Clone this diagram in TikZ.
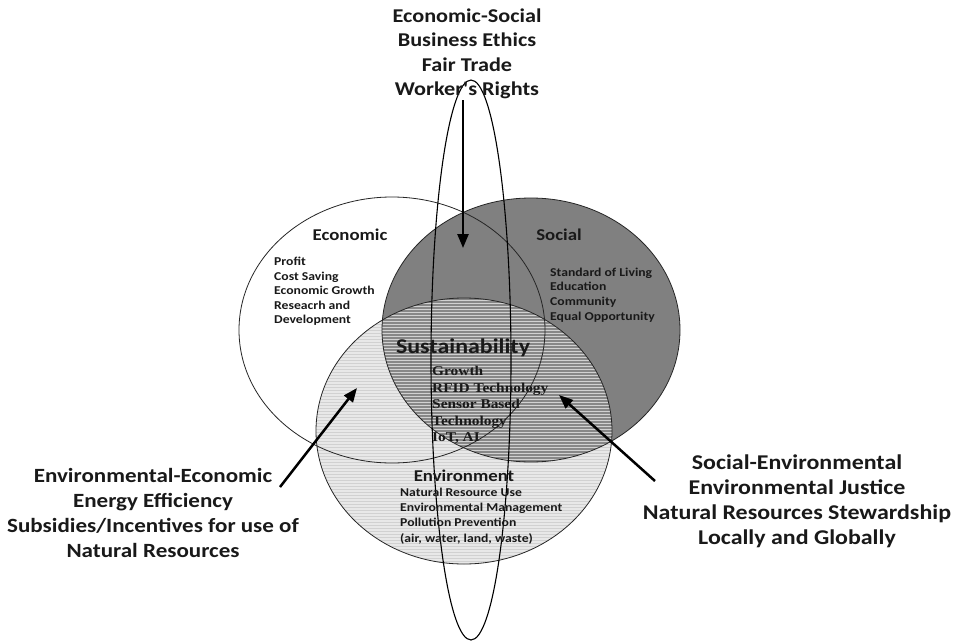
\documentclass[tikz,border=0pt]{standalone}
\usepackage{fontspec}
\usetikzlibrary{arrows.meta,patterns}
\newfontfamily\calfont[FakeStretch=1.14]{Carlito}
\newfontfamily\tmsfont[FakeStretch=1.14]{Liberation Serif}
\definecolor{socialgray}{gray}{0.5}
\definecolor{envgray}{gray}{0.625}
\definecolor{txt}{gray}{0.1}
\begin{document}
\begin{tikzpicture}[x=1pt,y=-1pt,
  bigtxt/.style={font={\calfont\bfseries\fontsize{19.5}{24.5}\selectfont}, align=center, text=txt, inner sep=0pt},
  lbl/.style={font={\calfont\bfseries\fontsize{16.5}{20}\selectfont}, text=txt, inner sep=0pt},
  sustlbl/.style={font={\calfont\bfseries\fontsize{21}{25}\selectfont}, text=txt, inner sep=0pt},
  smalltxt/.style={font={\calfont\bfseries\fontsize{12}{14.6}\selectfont}, align=left, text=txt, inner sep=0pt},
  seriftxt/.style={font={\tmsfont\bfseries\fontsize{13.5}{16.5}\selectfont}, align=left, text=txt, inner sep=0pt},
  circ/.style={draw=black!85, line width=0.8pt},
  tall/.style={draw=black, line width=1.1pt},
  arr/.style={draw=black, line width=2.5pt, -{Triangle[length=14pt,width=11pt]}}
]
\useasboundingbox (0,0) rectangle (954,643);
\fill[white] (0,0) rectangle (954,643);
% fills
\fill[white] (392,330) ellipse [x radius=153pt, y radius=133pt];
\fill[socialgray] (531,330) ellipse [x radius=149pt, y radius=132pt];
\fill[envgray, opacity=0.24] (464,431) ellipse [x radius=148pt, y radius=133pt];
\fill[pattern=horizontal lines, pattern color=black!18] (464,431) ellipse [x radius=148pt, y radius=133pt];
% outlines
\draw[circ] (392,330) ellipse [x radius=153pt, y radius=133pt];
\draw[circ] (531,330) ellipse [x radius=149pt, y radius=132pt];
\draw[circ] (464,431) ellipse [x radius=148pt, y radius=133pt];
\draw[tall] (471,360) ellipse [x radius=40pt, y radius=280pt];
% texts
\node[bigtxt] (ecosoc) at (467,54) {Economic-Social\\Business Ethics\\Fair Trade\\Worker's Rights};
\node[bigtxt, font={\calfont\bfseries\fontsize{20.2}{25}\selectfont}] (envecon) at (153,513) {Environmental-Economic\\Energy Efficiency\\Subsidies/Incentives for use of\\Natural Resources};
\node[bigtxt, font={\calfont\bfseries\fontsize{21}{25}\selectfont}] (socenv) at (797,501) {Social-Environmental\\Environmental Justice\\Natural Resources Stewardship\\Locally and Globally};
\node[lbl] (econlbl) at (350,235) {Economic};
\node[lbl] (soclbl) at (559,235) {Social};
\node[sustlbl] (sustlbl) at (463,348) {Sustainability};
\node[lbl] (envlbl) at (464,476) {Environment};
\node[smalltxt, anchor=west] (econlist) at (274,291.5) {Profit\\Cost Saving\\Economic Growth\\Reseacrh and\\Development};
\node[smalltxt, anchor=west] (soclist) at (550,295) {Standard of Living\\Education\\Community\\Equal Opportunity};
\node[seriftxt, anchor=west] (sustlist) at (432,405) {Growth\\RFID Technology\\Sensor Based\\Technology\\IoT, AI};
\node[smalltxt, anchor=west, font={\calfont\bfseries\fontsize{12}{15.3}\selectfont}] (envlist) at (400,516) {Natural Resource Use\\Environmental Management\\Pollution Prevention\\(air, water, land, waste)};
% arrows
\coordinate (topTail) at (463,100);
\coordinate (topTip) at (463,248);
\coordinate (leftTail) at (280,487);
\coordinate (leftTip) at (357,388);
\coordinate (rightTail) at (655,481);
\coordinate (rightTip) at (559,395);
\draw[arr] (topTail) -- (topTip);
\draw[arr] (leftTail) -- (leftTip);
\draw[arr] (rightTail) -- (rightTip);
\end{tikzpicture}
\end{document}
